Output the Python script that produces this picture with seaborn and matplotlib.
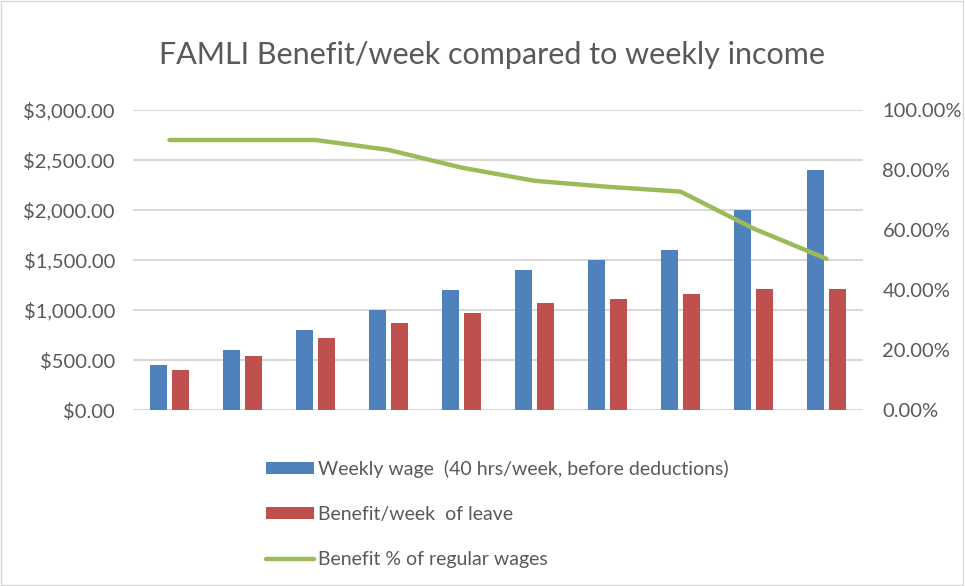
import numpy as np
import pandas as pd
import matplotlib
matplotlib.use("Agg")
import matplotlib.pyplot as plt
import seaborn as sns
from matplotlib.patches import Patch
from matplotlib.lines import Line2D
from matplotlib.ticker import FuncFormatter, MultipleLocator

# data
groups = ["1", "2", "3", "4", "5", "6", "7", "8", "9", "10"]
weekly_wage = [450, 600, 800, 1000, 1200, 1400, 1500, 1600, 2000, 2400]
weekly_benefit = [405, 540, 720, 867, 970, 1070, 1115, 1165, 1210, 1210]
benefit_pct = [0.90, 0.90, 0.90, 0.867, 0.808, 0.764, 0.744, 0.728, 0.605, 0.504]

series_names = ["Weekly wage  (40 hrs/week, before deductions)", "Benefit/week  of leave"]
line_name = "Benefit % of regular wages"

BLUE = "#4F81BD"
RED = "#C0504D"
GREEN = "#9BBB59"
TEXT = "#595959"
GRID = "#D9D9D9"

sns.set_theme(style="white")
plt.rcParams["font.family"] = ["Lato", "DejaVu Sans"]

df = pd.DataFrame({
    "group": groups * 2,
    "value": weekly_wage + weekly_benefit,
    "series": [series_names[0]] * len(groups) + [series_names[1]] * len(groups),
})

fig = plt.figure(figsize=(9.65, 5.86), dpi=100)
ax = fig.add_axes([133 / 965, 1 - 410 / 586, 730 / 965, 300 / 586])

sns.barplot(data=df, x="group", y="value", hue="series", order=groups,
            palette=[BLUE, RED], width=0.59, gap=0.23, ax=ax,
            legend=False, saturation=1, linewidth=0)

ax.set_ylim(0, 3000)
ax.set_xlim(-0.5, len(groups) - 0.5)
ax.yaxis.set_major_locator(MultipleLocator(500))
ax.yaxis.set_major_formatter(FuncFormatter(lambda v, p: f"${v:,.2f}"))
ax.grid(axis="y", color=GRID, linewidth=1.5)
ax.set_axisbelow(True)
ax.set_xticks([])
ax.set_xlabel("")
ax.set_ylabel("")
for s in ax.spines.values():
    s.set_visible(False)
ax.tick_params(axis="y", labelsize=14.5, labelcolor=TEXT, length=0, pad=13)

ax2 = ax.twinx()
sns.lineplot(x=np.arange(len(groups)), y=benefit_pct, ax=ax2, color=GREEN,
             linewidth=3.2, solid_capstyle="round")
ax2.set_ylim(0, 1.0)
ax2.set_xlim(-0.5, len(groups) - 0.5)
ax2.yaxis.set_major_locator(MultipleLocator(0.2))
ax2.yaxis.set_major_formatter(FuncFormatter(lambda v, p: f"{v * 100:.2f}%"))
ax2.tick_params(axis="y", labelsize=14.5, labelcolor=TEXT, length=0, pad=14)
ax2.grid(False)
for s in ax2.spines.values():
    s.set_visible(False)

fig.text(492 / 965, 1 - 55 / 586, "FAMLI Benefit/week compared to weekly income",
         ha="center", va="center", fontsize=22, color=TEXT)

handles = [
    Patch(facecolor=BLUE, edgecolor="none"),
    Patch(facecolor=RED, edgecolor="none"),
    Line2D([0], [0], color=GREEN, linewidth=3.2, solid_capstyle="round"),
]
fig.legend(handles, series_names + [line_name], loc="upper left",
           bbox_to_anchor=(258 / 965, 1 - 452 / 586), frameon=False,
           fontsize=14, labelcolor=TEXT, handlelength=2.5, handleheight=0.55,
           handletextpad=0.2, labelspacing=1.45, borderaxespad=0)

fig.patches.append(plt.Rectangle((0.001, 0.001), 0.997, 0.997, transform=fig.transFigure,
                                 fill=False, edgecolor="#D9D9D9", linewidth=1))

fig.savefig("out.png", dpi=100)
